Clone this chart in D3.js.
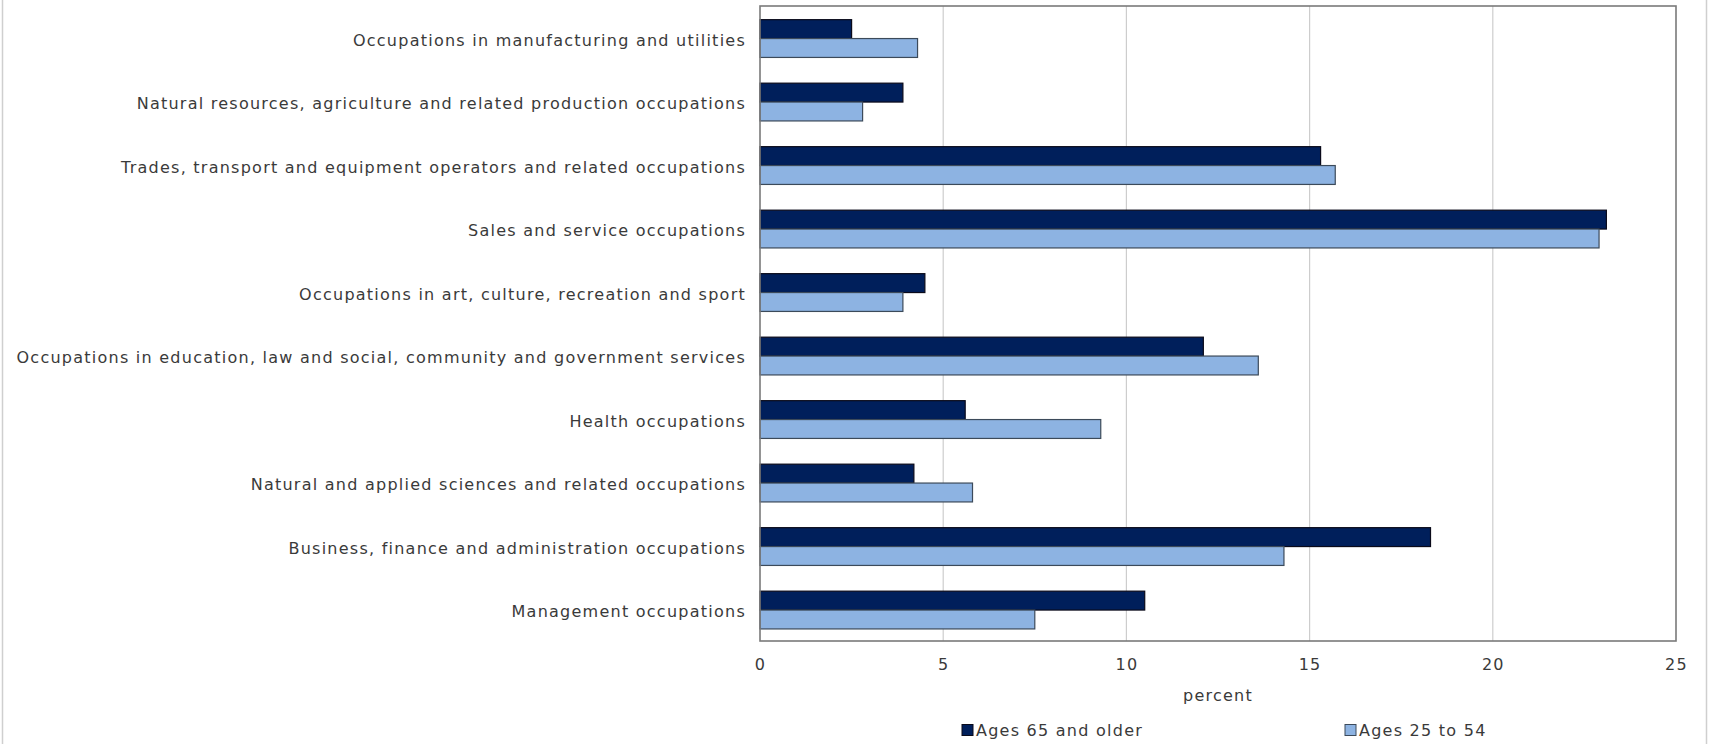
<!DOCTYPE html>
<html>
<head>
<meta charset="utf-8">
<script src="https://cdn.jsdelivr.net/npm/d3@7"></script>
<style>
  html, body { margin: 0; padding: 0; background: #ffffff; }
  svg { display: block; }
  text { font-family: "DejaVu Sans", Verdana, sans-serif; fill: #3a3a3a; letter-spacing: 1.25px; }
</style>
</head>
<body>
<svg id="chart" width="1713" height="744"></svg>
<script>
// Occupation groups, listed top to bottom
const categories = [
  "Occupations in manufacturing and utilities",
  "Natural resources, agriculture and related production occupations",
  "Trades, transport and equipment operators and related occupations",
  "Sales and service occupations",
  "Occupations in art, culture, recreation and sport",
  "Occupations in education, law and social, community and government services",
  "Health occupations",
  "Natural and applied sciences and related occupations",
  "Business, finance and administration occupations",
  "Management occupations"
];

// Share of employment by occupation (percent)
const ages65plus = [2.5, 3.9, 15.3, 23.1, 4.5, 12.1, 5.6, 4.2, 18.3, 10.5];
const ages25to54 = [4.3, 2.8, 15.7, 22.9, 3.9, 13.6, 9.3, 5.8, 14.3, 7.5];

const seriesNames = ["Ages 65 and older", "Ages 25 to 54"];
const seriesColors = ["#001f5b", "#8db3e2"];
const seriesStrokes = ["#0a0a1a", "#3c4a5a"];

const xTicks = [0, 5, 10, 15, 20, 25];
const axisTitle = "percent";

const svg = d3.select("#chart");
const plot = { left: 760, right: 1676, top: 6, bottom: 641 };
const fontSize = 16;

const x = d3.scaleLinear().domain([0, 25]).range([plot.left, plot.right]);
const y = d3.scaleBand().domain(categories).range([plot.top, plot.bottom]).paddingInner(0).paddingOuter(0);
const groupWidth = y.bandwidth() * 0.595;
const ySub = d3.scaleBand().domain([0, 1]).range([0, groupWidth]);

// outer chart frame
svg.append("line").attr("x1", 2.5).attr("x2", 2.5).attr("y1", 0).attr("y2", 744)
  .attr("stroke", "#cfcfcf").attr("stroke-width", 1.5);
svg.append("line").attr("x1", 1706.5).attr("x2", 1706.5).attr("y1", 0).attr("y2", 744)
  .attr("stroke", "#cfcfcf").attr("stroke-width", 1.5);

// vertical gridlines
svg.append("g").selectAll("line")
  .data(xTicks.filter(d => d > 0 && d < 25))
  .join("line")
  .attr("x1", d => x(d)).attr("x2", d => x(d))
  .attr("y1", plot.top).attr("y2", plot.bottom)
  .attr("stroke", "#cdcdcd").attr("stroke-width", 1.2);

// bars
const rows = categories.map((c, i) => ({ cat: c, vals: [ages65plus[i], ages25to54[i]] }));
const rowG = svg.append("g").selectAll("g")
  .data(rows)
  .join("g")
  .attr("transform", d => `translate(0,${y(d.cat) + (y.bandwidth() - groupWidth) / 2 + 0.8})`);

rowG.selectAll("rect")
  .data(d => d.vals.map((v, k) => ({ v, k })))
  .join("rect")
  .attr("x", x(0))
  .attr("y", d => ySub(d.k))
  .attr("width", d => x(d.v) - x(0))
  .attr("height", ySub.bandwidth())
  .attr("fill", d => seriesColors[d.k])
  .attr("stroke", d => seriesStrokes[d.k])
  .attr("stroke-width", 1.2);

// plot frame
svg.append("rect")
  .attr("x", plot.left).attr("y", plot.top)
  .attr("width", plot.right - plot.left).attr("height", plot.bottom - plot.top)
  .attr("fill", "none").attr("stroke", "#7a7a7a").attr("stroke-width", 1.6);

// category labels
svg.append("g").selectAll("text")
  .data(categories)
  .join("text")
  .attr("x", plot.left - 14)
  .attr("y", d => y(d) + y.bandwidth() / 2 + 3.5)
  .attr("text-anchor", "end")
  .attr("dominant-baseline", "middle")
  .attr("font-size", fontSize)
  .text(d => d);

// x axis tick labels
const xAxis = d3.axisBottom(x).tickValues(xTicks).tickSize(0).tickPadding(0).tickFormat(d3.format("d"));
const axG = svg.append("g").attr("transform", `translate(0,${plot.bottom})`).call(xAxis);
axG.select(".domain").remove();
axG.selectAll("text")
  .attr("y", 24)
  .attr("dy", "0")
  .attr("dominant-baseline", "middle")
  .attr("font-size", fontSize)
  .style("font-family", "\"DejaVu Sans\", Verdana, sans-serif")
  .attr("fill", "#3a3a3a");

svg.append("text")
  .attr("x", (plot.left + plot.right) / 2)
  .attr("y", 696)
  .attr("text-anchor", "middle")
  .attr("dominant-baseline", "middle")
  .attr("font-size", fontSize)
  .text(axisTitle);

// legend
const legendX = [962, 1345];
const lg = svg.append("g").selectAll("g")
  .data(seriesNames)
  .join("g")
  .attr("transform", (d, i) => `translate(${legendX[i]},730)`);
lg.append("rect")
  .attr("x", 0).attr("y", -5.5).attr("width", 11).attr("height", 11)
  .attr("fill", (d, i) => seriesColors[i])
  .attr("stroke", (d, i) => seriesStrokes[i]).attr("stroke-width", 1);
lg.append("text")
  .attr("x", 14).attr("y", 1)
  .attr("dominant-baseline", "middle")
  .attr("font-size", fontSize)
  .text(d => d);
</script>
</body>
</html>
